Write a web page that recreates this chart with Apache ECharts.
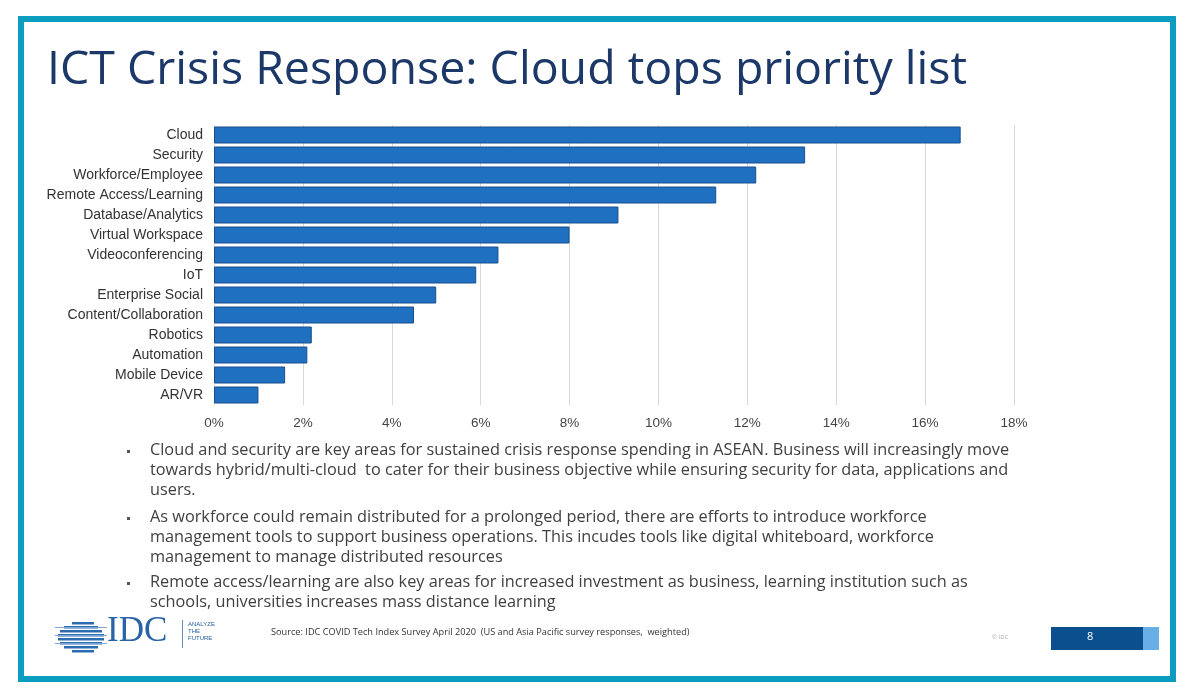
<!DOCTYPE html>
<html>
<head>
<meta charset="utf-8">
<script src="https://cdn.jsdelivr.net/npm/echarts@6/dist/echarts.min.js"></script>
<style>
html,body{margin:0;padding:0;background:#fff;}
#c{width:1200px;height:697px;}
</style>
</head>
<body>
<div id="c"></div>
<script>
const categories = ["Cloud","Security","Workforce/Employee","Remote Access/Learning","Database/Analytics","Virtual Workspace","Videoconferencing","IoT","Enterprise Social","Content/Collaboration","Robotics","Automation","Mobile Device","AR/VR"];
const values = [16.8,13.3,12.2,11.3,9.1,8.0,6.4,5.9,5.0,4.5,2.2,2.1,1.6,1.0];
const xTicks = {min:0, max:18, interval:2};
const bullets = [
  "Cloud and security are key areas for sustained crisis response spending in ASEAN. Business will increasingly move\ntowards hybrid/multi-cloud  to cater for their business objective while ensuring security for data, applications and\nusers.",
  "As workforce could remain distributed for a prolonged period, there are efforts to introduce workforce\nmanagement tools to support business operations. This incudes tools like digital whiteboard, workforce\nmanagement to manage distributed resources",
  "Remote access/learning are also key areas for increased investment as business, learning institution such as\nschools, universities increases mass distance learning"
];
const bulletY = [440, 507, 572];

const chart = echarts.init(document.getElementById('c'));
const graphics = [
  {type:'rect', shape:{x:21,y:19,width:1152,height:660}, style:{fill:'none', stroke:'#0A9DC0', lineWidth:6}, z:1},
  {type:'text', left:47, top:47, style:{text:'ICT Crisis Response: Cloud tops priority list', font:'46.5px "Open Sans"', fill:'#1B3868'}},
  {type:'text', left:271, top:628, style:{text:'Source: IDC COVID Tech Index Survey April 2020  (US and Asia Pacific survey responses,  weighted)', font:'9.2px "Open Sans"', fill:'#333'}},
  {type:'text', left:992, top:634, style:{text:'\u00a9 IDC', font:'6px "Open Sans"', fill:'#aaa'}},
  {type:'rect', shape:{x:1051,y:627,width:92,height:23}, style:{fill:'#0B4F8F'}},
  {type:'rect', shape:{x:1143,y:627,width:16,height:23}, style:{fill:'#6AAEE6'}},
  {type:'text', left:1087, top:631, style:{text:'8', font:'11px "Open Sans"', fill:'#fff'}},
  {type:'text', left:107, top:614, style:{text:'IDC', font:'35px "Liberation Serif"', fill:'#2A64A8'}},
  {type:'rect', shape:{x:182,y:620,width:1,height:28}, style:{fill:'#6a8fbf'}},
  {type:'text', left:188, top:621, style:{text:'ANALYZE\nTHE\nFUTURE', font:'6px "Liberation Sans"', fill:'#1F5A9A', lineHeight:7}}
];
// IDC logo stripes
const stripes = [[72,622,22],[64,626,34],[60,630,42],[58,634,46],[58,638,46],[60,642,42],[64,646,34],[72,650,22]];
stripes.forEach(s=>graphics.push({type:'rect', shape:{x:s[0],y:s[1],width:s[2],height:2.5}, style:{fill:'#2B6CB0'}}));
[[55,627,52],[55,635,52],[55,643,52]].forEach(s=>graphics.push({type:'rect', shape:{x:s[0],y:s[1],width:s[2],height:1}, style:{fill:'#7fa6d6'}}));
bullets.forEach((t,i)=>{
  graphics.push({type:'rect', shape:{x:127,y:bulletY[i]+10,width:3,height:3}, style:{fill:'#555'}});
  graphics.push({type:'text', left:150, top:bulletY[i], style:{text:t, font:'16.3px "Open Sans"', fill:'#404040', lineHeight:20}});
});

chart.setOption({
  animation:false,
  backgroundColor:'#fff',
  graphic: graphics,
  grid:{left:214, top:125, width:800, height:280, containLabel:false},
  xAxis:{type:'value', min:xTicks.min, max:xTicks.max, interval:xTicks.interval,
    axisLabel:{formatter:'{value}%', color:'#444', fontSize:13.5, fontFamily:'Liberation Sans', margin:11},
    axisLine:{show:false}, axisTick:{show:false},
    splitLine:{lineStyle:{color:'#D9D9D9'}}},
  yAxis:{type:'category', inverse:true, data:categories,
    axisLabel:{color:'#333', fontSize:14, fontFamily:'Liberation Sans', margin:11},
    axisLine:{show:false}, axisTick:{show:false}},
  series:[{type:'bar', data:values, barWidth:17,
    itemStyle:{color:'#1F70C1', borderColor:'#1A4F8E', borderWidth:1}}]
});
</script>
</body>
</html>
